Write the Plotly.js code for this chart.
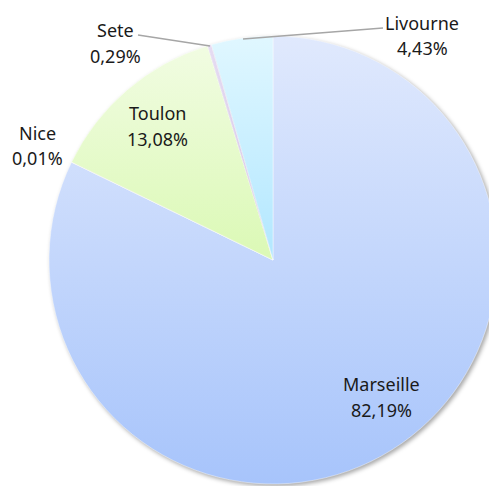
<!DOCTYPE html>
<html><head><meta charset="utf-8">
<script src="https://cdn.plot.ly/plotly-3.0.1.min.js"></script>
<style>html,body{margin:0;padding:0;overflow:hidden;background:#fff;width:489px;height:486px}#chart{width:500px;height:486px}</style>
</head><body><div id="chart"></div>
<script>
const ports = ["Marseille", "Nice", "Toulon", "Sete", "Livourne"];
const shares = [82.19, 0.01, 13.08, 0.29, 4.43];
const percentLabels = ["82,19%", "0,01%", "13,08%", "0,29%", "4,43%"];
const colors = ["#c4d6fa", "#f2d4d4", "#e6f9cc", "#dccfeb", "#d0f1ff"];
// vertical gradient stops per slice (top, bottom)
const gradients = [["#e0e9fd", "#a7c4fb"], ["#f6dede", "#eec4c4"], ["#f1fce2", "#dbf9b5"], ["#e6dcf2", "#d2c2e6"], ["#e0f7ff", "#b2e7ff"]];

// layout geometry (pixels)
const W = 500, H = 486, ML = 49, MR = 3, MT = 36, MB = 2;
const PW = W - ML - MR, PH = H - MT - MB;
const px = x => (x - ML) / PW;
const py = y => 1 - (y - MT) / PH;

// label placement (pixel centres of name line, percent line)
const labelPos = [
  {x: 381, y1: 384, y2: 410},
  {x: 37,  y1: 133, y2: 158},
  {x: 157, y1: 113, y2: 139},
  {x: 115, y1: 30,  y2: 56},
  {x: 422, y1: 23,  y2: 48}
];
const font = {family: "Noto Sans, sans-serif", size: 18, color: "#1a1a1a"};
const annotations = [];
ports.forEach((p, i) => {
  const L = labelPos[i];
  annotations.push({xref: "paper", yref: "paper", x: px(L.x), y: py(L.y1), text: p, showarrow: false, xanchor: "center", yanchor: "middle", font});
  annotations.push({xref: "paper", yref: "paper", x: px(L.x), y: py(L.y2), text: percentLabels[i], showarrow: false, xanchor: "center", yanchor: "middle", font});
});
const leaders = [
  [[138, 35], [210, 46]],
  [[243, 39], [383, 28]]
];
const shapes = leaders.map(s => ({type: "line", xref: "paper", yref: "paper",
  x0: px(s[0][0]), y0: py(s[0][1]), x1: px(s[1][0]), y1: py(s[1][1]),
  line: {color: "#a6a6a6", width: 1.5}}));

const pie = {
  type: "pie", labels: ports, values: shares, sort: false, direction: "clockwise", rotation: 0,
  textinfo: "none", hoverinfo: "label+percent",
  marker: {colors: colors, line: {color: "rgba(255,255,255,0.7)", width: 0.6}},
  domain: {x: [0, 1], y: [0, 1]}, showlegend: false
};
Plotly.newPlot("chart", [pie], {
  width: W, height: H,
  margin: {l: ML, r: MR, t: MT, b: MB},
  paper_bgcolor: "#fff", plot_bgcolor: "#fff",
  annotations, shapes, showlegend: false
}, {displayModeBar: false, staticPlot: true}).then(gd => {
  const svg = gd.querySelector(".main-svg");
  const NS = "http://www.w3.org/2000/svg";
  const defs = document.createElementNS(NS, "defs");
  gradients.forEach((g, i) => {
    const lg = document.createElementNS(NS, "linearGradient");
    lg.setAttribute("id", "sliceGrad" + i);
    lg.setAttribute("x1", "0"); lg.setAttribute("y1", "0");
    lg.setAttribute("x2", "0"); lg.setAttribute("y2", "1");
    [[0, g[0]], [1, g[1]]].forEach(([o, c]) => {
      const st = document.createElementNS(NS, "stop");
      st.setAttribute("offset", o); st.setAttribute("stop-color", c);
      lg.appendChild(st);
    });
    defs.appendChild(lg);
  });
  svg.insertBefore(defs, svg.firstChild);
  const trace = gd.querySelector(".pielayer .trace");
  if (trace) trace.style.filter = "drop-shadow(2px 2px 2px rgba(0,0,0,0.35))";
  gd.querySelectorAll(".pielayer .slice path.surface").forEach((p, i) => {
    if (i < gradients.length) p.style.fill = "url(#sliceGrad" + i + ")";
  });
});
</script></body></html>
